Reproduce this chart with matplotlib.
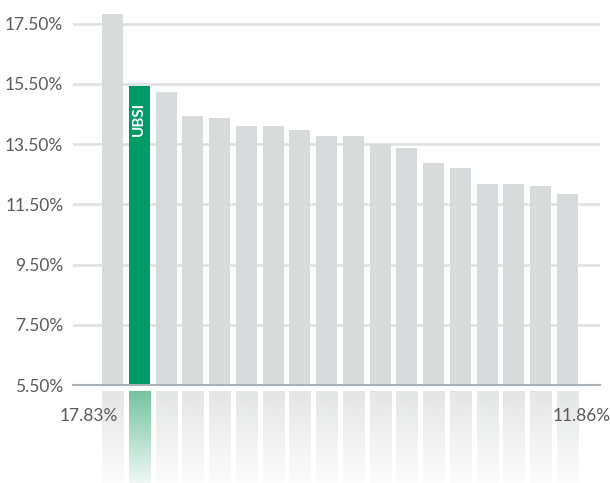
import numpy as np
import matplotlib
matplotlib.use("Agg")
import matplotlib.pyplot as plt
from matplotlib.colors import to_rgb

# ---- data ----
banks = ["B1", "UBSI", "B3", "B4", "B5", "B6", "B7", "B8", "B9", "B10",
         "B11", "B12", "B13", "B14", "B15", "B16", "B17", "B18"]
values = [17.83, 15.42, 15.22, 14.43, 14.36, 14.09, 14.09, 13.96, 13.76, 13.76,
          13.52, 13.36, 12.86, 12.70, 12.17, 12.17, 12.10, 11.86]
highlight = "UBSI"
yticks = [5.5, 7.5, 9.5, 11.5, 13.5, 15.5, 17.5]
ytick_labels = ["5.50%", "7.50%", "9.50%", "11.50%", "13.50%", "15.50%", "17.50%"]

W, H = 610, 483
fig = plt.figure(figsize=(W / 100, H / 100), dpi=100)
plt.rcParams['font.family'] = ['Lato', 'DejaVu Sans']

GREEN = "#009a68"
GRAY = "#d7dbdb"
TXT = "#5a5a5a"

# main axes (pixel layout)
ax_l, ax_r, ax_bottom_px, ax_top_px = 73, 600, 385, 0
ax = fig.add_axes([ax_l / W, (H - ax_bottom_px) / H, (ax_r - ax_l) / W,
                   (ax_bottom_px - ax_top_px) / H])
x = np.arange(len(values))
xlim = (-1.476, 18.22)
ax.set_xlim(*xlim)
ax.set_ylim(5.5, 18.29)
colors = [GREEN if b == highlight else GRAY for b in banks]
width = 0.785
ax.bar(x, [v - 5.5 for v in values], bottom=5.5, width=width, color=colors,
       zorder=3)
ax.set_yticks(yticks)
ax.set_yticklabels(ytick_labels)
ax.grid(axis='y', color="#e0e3e5", linewidth=2, zorder=1)
ax.set_axisbelow(True)
ax.tick_params(axis='y', length=0, pad=7, labelsize=12.5, labelcolor=TXT)
ax.set_xticks([])
for s in ["top", "right", "left"]:
    ax.spines[s].set_visible(False)
ax.spines["bottom"].set_color("#aab1b6")
ax.spines["bottom"].set_linewidth(1.5)
ax.spines["bottom"].set_zorder(4)

hi = banks.index(highlight)
ax.text(hi, values[hi] - 0.53, highlight, rotation=90, ha='center', va='top',
        color='white', fontsize=11, fontweight='bold', zorder=5)

# reflection axes
ref_top = 391
rax = fig.add_axes([ax_l / W, 0, (ax_r - ax_l) / W, (H - ref_top) / H])
rax.set_xlim(*xlim)
rax.set_ylim(0, 1)
rax.axis('off')
n = 100
grad = np.linspace(1, 0, n)
for i, b in enumerate(banks):
    if b == highlight:
        top = np.array(to_rgb("#74c4a2"))
    else:
        top = np.array(to_rgb("#e4e6e6"))
    rgba = np.ones((n, 1, 4))
    rgba[:, 0, :3] = top
    rgba[:, 0, 3] = 0.12 + 0.88 * grad
    rax.imshow(rgba, extent=(i - width / 2, i + width / 2, 0, 1),
               aspect='auto', interpolation='bilinear', zorder=1)
rax.set_xlim(*xlim)
rax.set_ylim(0, 1)

# value labels for first and last bars (drawn on the figure, above reflection)
tr = rax.transData
ylab = 1 - (416 - ref_top) / (H - ref_top)
fig.text(*fig.transFigure.inverted().transform(tr.transform((0.22, ylab))),
         f"{values[0]:.2f}%", ha='right', va='center',
         fontsize=12.5, color=TXT, zorder=10)
fig.text(*fig.transFigure.inverted().transform(
    tr.transform((len(values) - 1 - 0.55, ylab))),
         f"{values[-1]:.2f}%", ha='left', va='center',
         fontsize=12.5, color=TXT, zorder=10)

fig.savefig("out.png", dpi=100)
